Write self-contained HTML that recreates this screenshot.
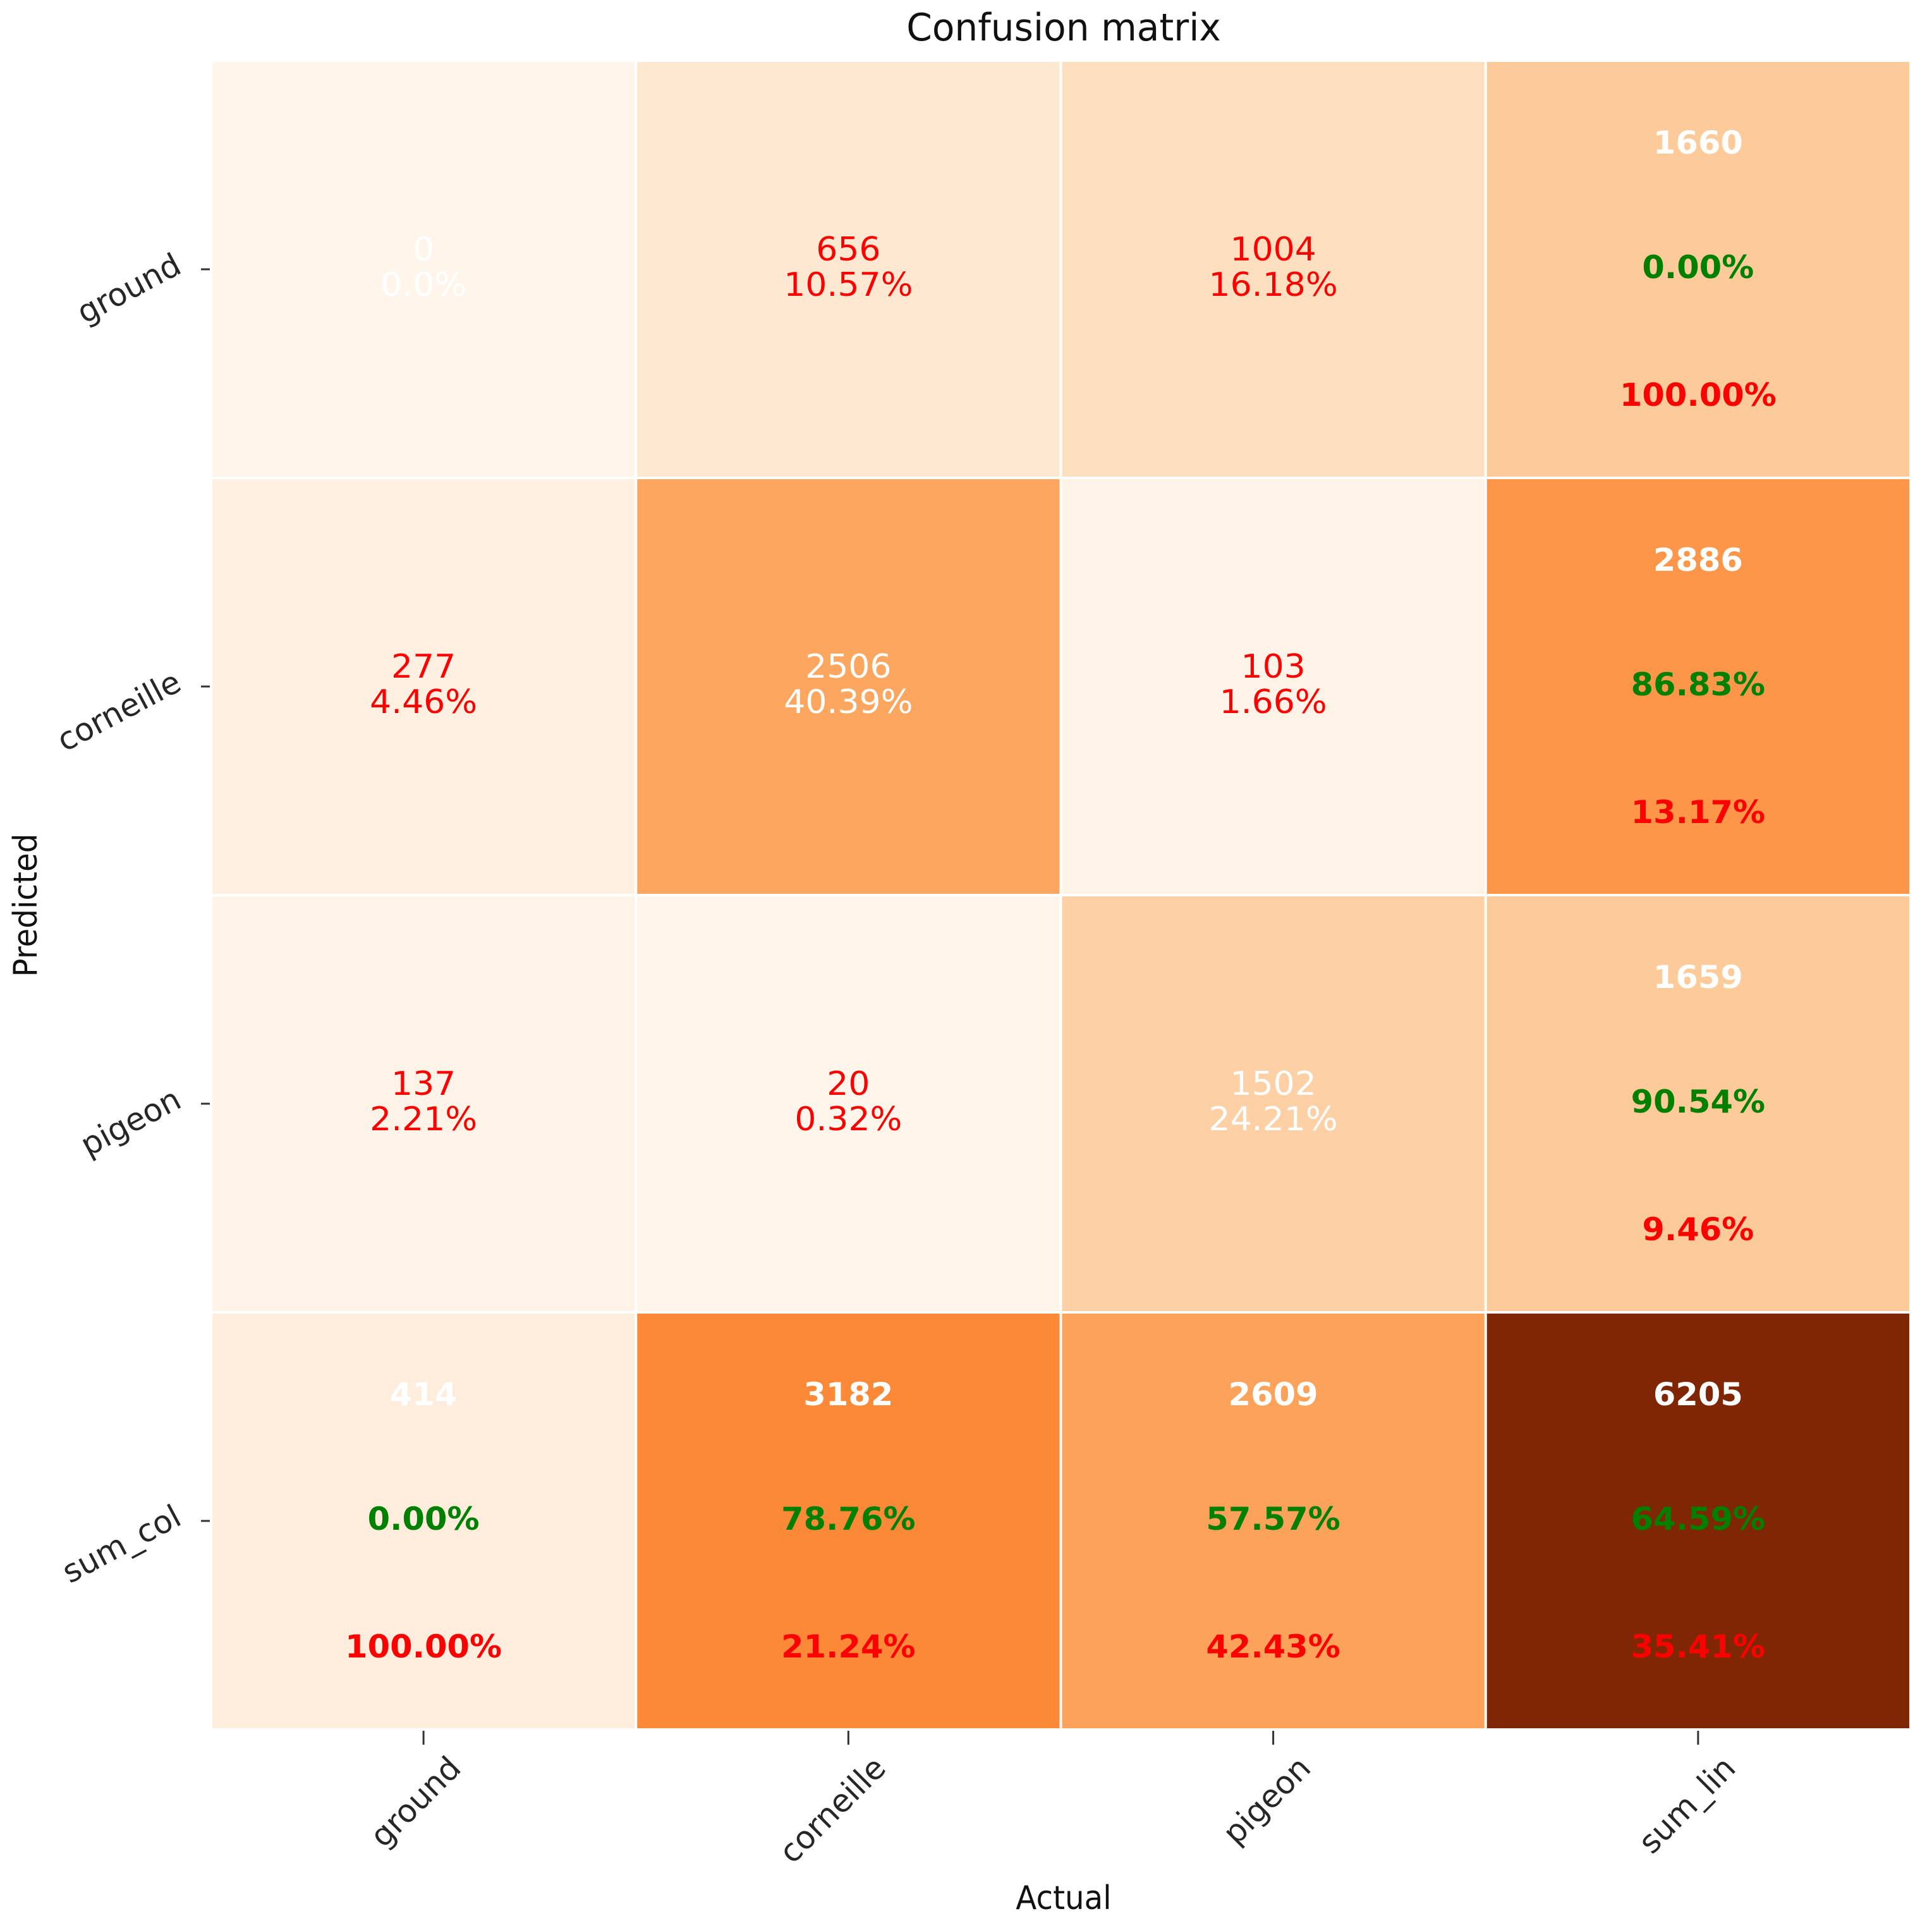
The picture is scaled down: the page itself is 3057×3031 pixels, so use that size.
<!DOCTYPE html>
<html><head><meta charset="utf-8"><style>
html,body{margin:0;padding:0;background:#fff;}
svg{display:block;font-family:"DejaVu Sans","Liberation Sans",sans-serif;}
</style></head><body>
<svg id="chart" width="3057" height="3031" viewBox="0 0 3057 3031" xmlns="http://www.w3.org/2000/svg">
<rect width="3057" height="3031" fill="#fff"/>
<g id="cells"></g>
<g id="texts"></g>
<g id="axes"></g>
</svg>
<script>
const rowLabels = ["ground","corneille","pigeon","sum_col"];
const colLabels = ["ground","corneille","pigeon","sum_lin"];
const row0 = [0, 656, 1004];
const row1 = [277, 2506, 103];
const row2 = [137, 20, 1502];
const titleText = "Confusion matrix";
const xTitle = "Actual";
const yTitle = "Predicted";

const NS = "http://www.w3.org/2000/svg";
const X0 = 334, Y0 = 96, CW = 672.25, CH = 660;
const xPos = j => X0 + j * CW;
const yPos = i => Y0 + i * CH;
const cm = ["#fff5eb","#fee6ce","#fdd0a2","#fdae6b","#fd8d3c","#f16913","#d94801","#a63603","#7f2704"];
function hex(h){return [1,3,5].map(k=>parseInt(h.substr(k,2),16));}
function cmap(t){t=Math.max(0,Math.min(1,t));const s=t*(cm.length-1);const i=Math.min(cm.length-2,Math.floor(s));const f=s-i;const a=hex(cm[i]),b=hex(cm[i+1]);return "rgb("+a.map((v,k)=>Math.round(v+(b[k]-v)*f)).join(",")+")";}

const M = [row0,row1,row2];
const n = 3;
const rowSum = M.map(r=>r.reduce((a,b)=>a+b,0));
const colSum = [0,1,2].map(j=>M.reduce((a,r)=>a+r[j],0));
const total = rowSum.reduce((a,b)=>a+b,0);
const full = M.map((r,i)=>r.concat([rowSum[i]]));
full.push(colSum.concat([total]));
const vmax = total;
const cells = document.getElementById('cells');
const texts = document.getElementById('texts');
const axes = document.getElementById('axes');
function mk(tag, attrs, parent){const e=document.createElementNS(NS,tag);for(const k in attrs)e.setAttribute(k,attrs[k]);parent.appendChild(e);return e;}
function txt(parent, x, y, s, size, fill, weight, anchor, rot, sx){
  const e=document.createElementNS(NS,'text');
  e.setAttribute('transform','translate('+x+','+y+')'+(rot?' rotate('+rot+')':'')+' scale('+(sx||1.0)+',1)');
  e.setAttribute('font-size',size);e.setAttribute('fill',fill);
  e.setAttribute('font-weight',weight||'normal');e.setAttribute('text-anchor',anchor||'middle');
  e.textContent=s;parent.appendChild(e);return e;
}
const pct = v => v.toFixed(2)+"%";
for(let i=0;i<=n;i++){
  for(let j=0;j<=n;j++){
    const v = full[i][j];
    const r = mk('rect',{x:xPos(j)+2,y:yPos(i)+2,width:CW-4,height:CH-4,fill:cmap(v/vmax)},cells);
    
    
    const cx = xPos(j)+CW/2, ty = yPos(i);
    if(i<n && j<n){
      const col = i===j ? '#ffffff' : '#ff0000';
      const p = v===0 ? '0.0%' : pct(v/total*100);
      const t1 = txt(texts,cx,ty+316,String(v),52,col,'normal',null,0,1.03);
      
      
      const t2 = txt(texts,cx,ty+372,p,52,col,'normal',null,0,1.03);
      
      
    } else {
      let diag;
      if(i===n && j===n) diag = M.reduce((a,r,k)=>a+r[k],0);
      else if(j===n) diag = M[i][i];
      else diag = M[j][j];
      const acc = v ? diag/v*100 : 0;
      const t1 = txt(texts,cx,ty+147,String(v),50,'#ffffff','bold',null,0,1.02);
      
      
      const t2 = txt(texts,cx,ty+344,pct(acc),50,'#008000','bold',null,0,1.02);
      
      
      const t3 = txt(texts,cx,ty+546,pct(100-acc),50,'#ff0000','bold',null,0,1.02);
      
      
    }
  }
}
// y ticks
rowLabels.forEach((lab,i)=>{
  const cy = yPos(i)+CH/2;
  const tk = mk('line',{x1:318,y1:cy,x2:332,y2:cy,stroke:'#333','stroke-width':3},axes);
  
  
  const t = txt(axes,290,cy+4,lab,50,'#262626','normal','end',-28,1.0);
  
  
});
// x ticks
colLabels.forEach((lab,j)=>{
  const cx = xPos(j)+CW/2;
  const tk = mk('line',{x1:cx,y1:2738,x2:cx,y2:2760,stroke:'#333','stroke-width':3},axes);
  
  
  const t = txt(axes,cx+62,2800,lab,50,'#262626','normal','end',-45,1.0);
  
  
});
const tt = txt(axes,1683,64,titleText,60,'#111','normal','middle',0,0.97);


const xt = txt(axes,1683,3020,xTitle,52,'#111','normal','middle',0,0.93);


const yt = txt(axes,58,1432,yTitle,52,'#111','normal','middle',-90,0.93);


</script>
</body></html>
